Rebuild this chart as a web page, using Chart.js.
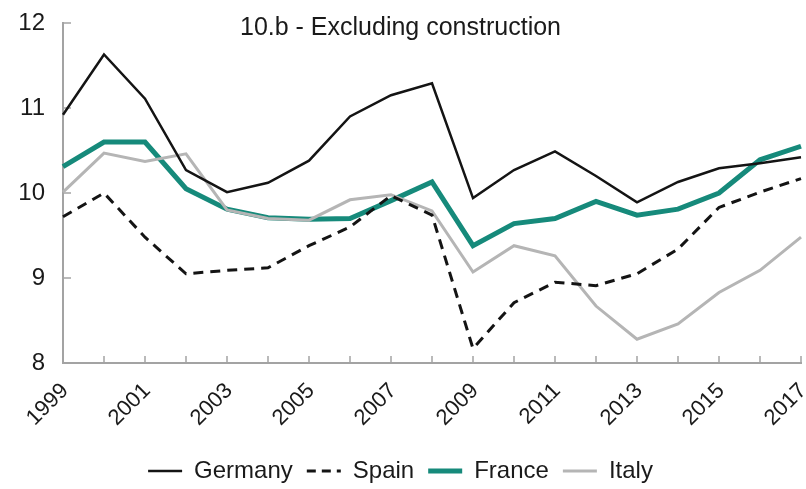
<!DOCTYPE html>
<html><head><meta charset="utf-8">
<script src="https://cdn.jsdelivr.net/npm/chart.js@4.4.1/dist/chart.umd.min.js"></script>
<style>html,body{margin:0;padding:0;background:#fff}#wrap{width:806px;height:489px;position:relative}</style>
</head><body><div id="wrap"><canvas id="c"></canvas></div>
<script>
const years = ['1999','2000','2001','2002','2003','2004','2005','2006','2007','2008','2009','2010','2011','2012','2013','2014','2015','2016','2017'];
const germany = [10.92, 11.63, 11.11, 10.27, 10.01, 10.12, 10.38, 10.90, 11.15, 11.29, 9.94, 10.27, 10.49, 10.20, 9.89, 10.13, 10.29, 10.35, 10.42];
const spain   = [9.72, 10.00, 9.48, 9.05, 9.09, 9.12, 9.38, 9.60, 9.97, 9.74, 8.17, 8.71, 8.95, 8.91, 9.05, 9.34, 9.83, 10.01, 10.17];
const france  = [10.31, 10.60, 10.60, 10.05, 9.81, 9.71, 9.69, 9.70, 9.91, 10.13, 9.38, 9.64, 9.70, 9.90, 9.74, 9.81, 10.00, 10.39, 10.55];
const italy   = [10.01, 10.47, 10.37, 10.46, 9.80, 9.70, 9.68, 9.92, 9.98, 9.79, 9.07, 9.38, 9.26, 8.67, 8.28, 8.46, 8.83, 9.09, 9.48];
const yMin = 8, yMax = 12;
const titleText = '10.b - Excluding construction';

const FONT = "'Liberation Sans', Arial, sans-serif";
const AXIS = '#a3a3a3';
const TEXT = '#1a1a1a';

const inwardTicks = {
  id: 'inwardTicks',
  beforeDatasetsDraw(chart) {
    const {ctx, chartArea, scales} = chart;
    const x = scales.x, y = scales.y;
    ctx.save();
    ctx.strokeStyle = AXIS;
    ctx.lineWidth = 1.5;
    x.ticks.forEach((t, i) => {
      const px = x.getPixelForTick(i);
      ctx.beginPath(); ctx.moveTo(px, chartArea.bottom); ctx.lineTo(px, chartArea.bottom - 7); ctx.stroke();
    });
    y.ticks.forEach((t, i) => {
      const py = y.getPixelForTick(i);
      ctx.beginPath(); ctx.moveTo(chartArea.left, py); ctx.lineTo(chartArea.left + 8, py); ctx.stroke();
    });
    ctx.restore();
  }
};

new Chart(document.getElementById('c'), {
  type: 'line',
  data: {
    labels: years,
    datasets: [
      {label: 'Germany', data: germany, borderColor: '#141414', backgroundColor: '#141414', borderWidth: 2.5, order: 0},
      {label: 'Spain', data: spain, borderColor: '#141414', backgroundColor: '#141414', borderWidth: 3, borderDash: [10, 7], order: 1},
      {label: 'France', data: france, borderColor: '#168a7b', backgroundColor: '#168a7b', borderWidth: 5, order: 3},
      {label: 'Italy', data: italy, borderColor: '#b5b5b5', backgroundColor: '#b5b5b5', borderWidth: 3, order: 2}
    ]
  },
  options: {
    responsive: true,
    maintainAspectRatio: false,
    animation: false,
    devicePixelRatio: 1,
    elements: {line: {tension: 0}, point: {radius: 0, hoverRadius: 0}},
    layout: {padding: {left: 0, right: 5, top: 9, bottom: -4}},
    plugins: {
      tooltip: {enabled: false},
      title: {
        display: true, text: titleText, color: TEXT,
        font: {family: FONT, size: 25, weight: 'normal'},
        padding: {top: 4, bottom: -20}
      },
      legend: {
        position: 'bottom',
        labels: {
          usePointStyle: true, pointStyle: 'line', pointStyleWidth: 34,
          color: TEXT, font: {family: FONT, size: 24},
          padding: 14,
          sort: (a, b) => a.datasetIndex - b.datasetIndex,
          generateLabels: (chart) => {
            const items = Chart.defaults.plugins.legend.labels.generateLabels(chart);
            items.forEach(it => {
              const ds = chart.data.datasets[it.datasetIndex];
              it.lineWidth = ds.borderWidth;
              it.strokeStyle = ds.borderColor;
              it.lineDash = ds.borderDash ? [9, 6] : [];
            });
            return items;
          }
        }
      }
    },
    scales: {
      x: {
        grid: {drawOnChartArea: false, drawTicks: false},
        border: {display: true, color: AXIS, width: 2},
        ticks: {
          autoSkip: false, maxRotation: 45, minRotation: 45, padding: 15, labelOffset: 2,
          color: TEXT, font: {family: FONT, size: 22},
          callback: (v, i) => (i % 2 === 0 ? years[i] : '')
        },
        afterFit: (s) => { s.height = 82; s.paddingLeft = 0; s.paddingRight = 0; }
      },
      y: {
        min: yMin, max: yMax,
        grid: {drawOnChartArea: false, drawTicks: false},
        border: {display: true, color: AXIS, width: 2},
        ticks: {stepSize: 1, padding: 18, color: TEXT, font: {family: FONT, size: 24}},
        afterFit: (s) => { s.width = 63; s.paddingTop = 0; s.paddingBottom = 0; }
      }
    }
  },
  plugins: [inwardTicks]
});
</script>
</body></html>
